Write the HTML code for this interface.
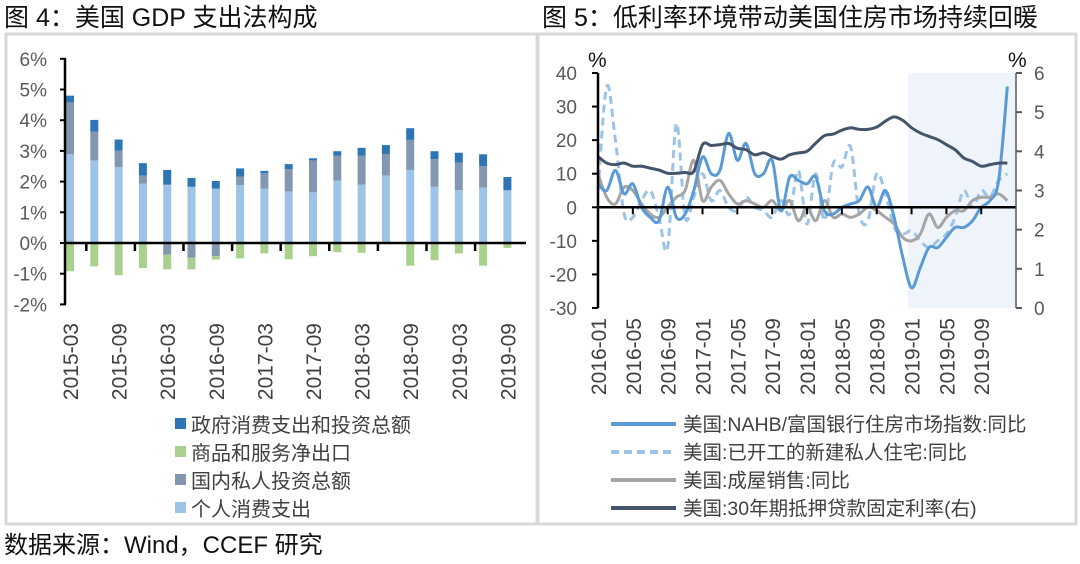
<!DOCTYPE html>
<html><head><meta charset="utf-8">
<style>
body{margin:0;background:#fff;width:1080px;height:559px;overflow:hidden;font-family:"Liberation Sans","Noto Sans CJK SC",sans-serif;}
svg text{font-family:"Liberation Sans","Noto Sans CJK SC",sans-serif;}
</style></head><body>
<svg id="s" width="1080" height="559" viewBox="0 0 1080 559">
<text x="4" y="26" font-size="25" fill="#111">图 4：美国 GDP 支出法构成</text>
<text x="542" y="26" font-size="25" fill="#111">图 5：低利率环境带动美国住房市场持续回暖</text>
<rect x="6" y="34" width="531" height="490" fill="none" stroke="#d9d9d9" stroke-width="3"/>
<rect x="538" y="34" width="538" height="490" fill="none" stroke="#d9d9d9" stroke-width="3"/>
<text x="4" y="553" font-size="24" fill="#111">数据来源：Wind，CCEF 研究</text>
<g id="L"></g><g id="R"></g>
</svg>
<script>
// ---- left chart data ----
const quarters=["2015-03","2015-06","2015-09","2015-12","2016-03","2016-06","2016-09","2016-12","2017-03","2017-06","2017-09","2017-12","2018-03","2018-06","2018-09","2018-12","2019-03","2019-06","2019-09"];
const consumption=[2.9,2.69,2.47,1.93,1.9,1.83,1.77,1.89,1.77,1.68,1.65,2.03,1.9,2.2,2.38,1.83,1.72,1.81,1.72];
const investment=[1.68,0.94,0.54,0.27,-0.38,-0.48,-0.43,0.27,0.5,0.73,1.04,0.82,0.95,0.7,0.98,0.9,0.9,0.69,0];
const government=[0.22,0.38,0.36,0.4,0.48,0.29,0.25,0.27,0.08,0.16,0.07,0.14,0.25,0.29,0.38,0.26,0.32,0.39,0.43];
const netExports=[-0.92,-0.76,-1.05,-0.82,-0.48,-0.38,-0.11,-0.5,-0.34,-0.53,-0.43,-0.3,-0.32,-0.02,-0.74,-0.56,-0.34,-0.74,-0.16];
const leftTicks=[6,5,4,3,2,1,0,-1,-2];
// ---- right chart data ----
const months=[];for(let y=2016;y<=2019;y++)for(let m=1;m<=12;m++)months.push(y+"-"+String(m).padStart(2,"0"));
const nahb=[7,5,11,4,7,0,-3,-4,6,-3,-2,5,15,10,11,22,14,19,10,10,14,-1,9,8,7,9,-1,-2,0,1,2,6,0,5,-3,-15,-24,-18,-12,-12,-9,-6,-6,-4,0,2,8,36];
const starts=[5,36,20,-2,-3,2,5,-3,-12,25,-3,3,10,2,5,0,-1,3,0,-1,-3,2,-2,11,-5,10,-4,13,12,18,-2,-4,10,4,-6,-8,-7,-10,-12,-10,-8,-3,5,0,5,3,8,10];
const homeSales=[10,3,1,6,5,1,-2,-3,0,3,5,14,2,6,8,4,1,2,1,0,2,-1,2,-4,0,-4,2,-3,-2,-3,-2,0,-1,-3,-5,-9,-10,-8,-2,-6,-3,-1,-1,2,3,3,4,2];
const mortgage=[3.87,3.7,3.66,3.7,3.62,3.62,3.57,3.52,3.44,3.44,3.46,3.49,4.17,4.15,4.17,4.2,4.08,4.04,3.91,3.96,3.87,3.8,3.91,3.96,4.0,4.21,4.4,4.44,4.54,4.6,4.56,4.56,4.62,4.77,4.88,4.79,4.6,4.47,4.38,4.3,4.17,4.04,3.83,3.74,3.62,3.66,3.7,3.7];
const rightLeftTicks=[40,30,20,10,0,-10,-20,-30];
const rightRightTicks=[6,5,4,3,2,1,0];

const NS="http://www.w3.org/2000/svg";
function mk(tag,attrs,parent,txt){const e=document.createElementNS(NS,tag);for(const k in attrs)e.setAttribute(k,attrs[k]);if(txt!==undefined)e.textContent=txt;parent.appendChild(e);return e;}

// ===== LEFT =====
const L=document.getElementById("L");
const ly=v=>243-v*30.7;
const lx=i=>66+i*24.3;
const bw=8;
leftTicks.forEach(t=>{
  const tx=mk("text",{x:47,y:ly(t)+7,"font-size":19,fill:"#595959","text-anchor":"end"},L,t+"%");
  
  
  const tk=mk("line",{x1:60,x2:66,y1:ly(t),y2:ly(t),stroke:"#000","stroke-width":2},L);
  
  
});
function bar(x,v0,v1,c,name){
  const r=mk("rect",{x:x,y:ly(Math.max(v0,v1)),width:bw,height:Math.abs(ly(v0)-ly(v1)),fill:c},L);
  
  
}
quarters.forEach((q,i)=>{
  const x=lx(i);
  bar(x,0,consumption[i],"#9dc3e6","bar-consumption");
  let pos=consumption[i],neg=0;
  if(investment[i]>=0){bar(x,pos,pos+investment[i],"#8497b0","bar-investment");pos+=investment[i];}
  else{bar(x,neg,neg+investment[i],"#8497b0","bar-investment");neg+=investment[i];}
  bar(x,pos,pos+government[i],"#2e75b6","bar-government");
  bar(x,neg,neg+netExports[i],"#a9d18e","bar-net-exports");
});
const lax=mk("line",{x1:65,x2:65,y1:ly(6),y2:ly(-2),stroke:"#000","stroke-width":2.5},L);


const l0=mk("line",{x1:65,x2:526,y1:ly(0),y2:ly(0),stroke:"#000","stroke-width":2.5},L);


quarters.forEach((q,i)=>{
  if(i%2) {const tk=mk("line",{x1:lx(i)-4,x2:lx(i)-4,y1:ly(0),y2:ly(0)+8,stroke:"#000","stroke-width":2.5},L);
    
    }
  if(i%2===0){const x=lx(i)+bw/2+8;
    const t=mk("text",{x:x,y:323,"font-size":21,fill:"#404040","text-anchor":"end",transform:`rotate(-90 ${x} 323)`},L,q);
    
    }
});
[["政府消费支出和投资总额","#2e75b6"],["商品和服务净出口","#a9d18e"],["国内私人投资总额","#8497b0"],["个人消费支出","#9dc3e6"]].forEach((e,i)=>{
  const g=mk("g",{},L);
  
  
  const y=425+i*28;
  mk("rect",{x:175,y:y-7,width:11,height:11,fill:e[1]},g);
  mk("text",{x:191,y:y+7,"font-size":20,fill:"#404040"},g,e[0]);
});

// ===== RIGHT =====
const R=document.getElementById("R");
const ry=v=>308-(v+30)*3.357;
const ry2=v=>308-v*39.17;
const rx=i=>598+i*8.71;
const sh=mk("rect",{x:908,y:73,width:108,height:235,fill:"#eef4fa"},R);


rightLeftTicks.forEach(t=>{
  const tx=mk("text",{x:577,y:ry(t)+7,"font-size":19,fill:"#595959","text-anchor":"end"},R,t);
  
  
  const tk=mk("line",{x1:592,x2:598,y1:ry(t),y2:ry(t),stroke:"#000","stroke-width":2},R);
  
  
});
rightRightTicks.forEach(t=>{
  const tx=mk("text",{x:1034,y:ry2(t)+7,"font-size":19,fill:"#595959"},R,t);
  
  
  const tk=mk("line",{x1:1016,x2:1022,y1:ry2(t),y2:ry2(t),stroke:"#595959","stroke-width":2},R);
  
  
});
const p1=mk("text",{x:588,y:67,"font-size":21,fill:"#111"},R,"%");


const p2=mk("text",{x:1008,y:67,"font-size":21,fill:"#111"},R,"%");


function smooth(pts){let d=`M${pts[0][0]},${pts[0][1]}`;for(let i=0;i<pts.length-1;i++){const p0=pts[i-1]||pts[i],p1=pts[i],p2=pts[i+1],p3=pts[i+2]||p2;
 d+=` C${p1[0]+(p2[0]-p0[0])/6},${p1[1]+(p2[1]-p0[1])/6} ${p2[0]-(p3[0]-p1[0])/6},${p2[1]-(p3[1]-p1[1])/6} ${p2[0]},${p2[1]}`;}return d;}
function series(arr,yf,c,dash,name){
  const p=mk("path",{d:smooth(arr.map((v,i)=>[rx(i),yf(v)])),fill:"none",stroke:c,"stroke-width":3,"stroke-dasharray":dash||"none"},R);
  
  
}
series(starts,ry,"#9dc3e6","8,5","line-housing-starts");
series(homeSales,ry,"#a5a5a5",null,"line-existing-home-sales");
series(nahb,ry,"#5b9bd5",null,"line-nahb-index");
series(mortgage,ry2,"#44546a",null,"line-mortgage-rate");
const rz=mk("line",{x1:598,x2:1016,y1:ry(0),y2:ry(0),stroke:"#000","stroke-width":2.5},R);


const ra=mk("line",{x1:598,x2:598,y1:ry(40),y2:ry(-30),stroke:"#000","stroke-width":2.5},R);


const rb=mk("line",{x1:1016,x2:1016,y1:ry2(6),y2:ry2(0),stroke:"#595959","stroke-width":1.5},R);


months.forEach((m,i)=>{
  if(i%4===0 && i>0){const tk=mk("line",{x1:rx(i),x2:rx(i),y1:ry(0),y2:ry(0)+7,stroke:"#000","stroke-width":2},R);
    
    }
  if(i%4===0){const x=rx(i)+8;
    const t=mk("text",{x:x,y:318,"font-size":21,fill:"#404040","text-anchor":"end",transform:`rotate(-90 ${x} 318)`},R,m);
    
    }
});
[["美国:NAHB/富国银行住房市场指数:同比","#5b9bd5",null],["美国:已开工的新建私人住宅:同比","#9dc3e6","8,5"],["美国:成屋销售:同比","#a5a5a5",null],["美国:30年期抵押贷款固定利率(右)","#44546a",null]].forEach((e,i)=>{
  const g=mk("g",{},R);
  
  
  const y=424+i*28;
  mk("line",{x1:611,x2:676,y1:y,y2:y,stroke:e[1],"stroke-width":4,"stroke-dasharray":e[2]||"none"},g);
  mk("text",{x:683,y:y+7,"font-size":19.5,fill:"#404040"},g,e[0]);
});
</script>
</body></html>
